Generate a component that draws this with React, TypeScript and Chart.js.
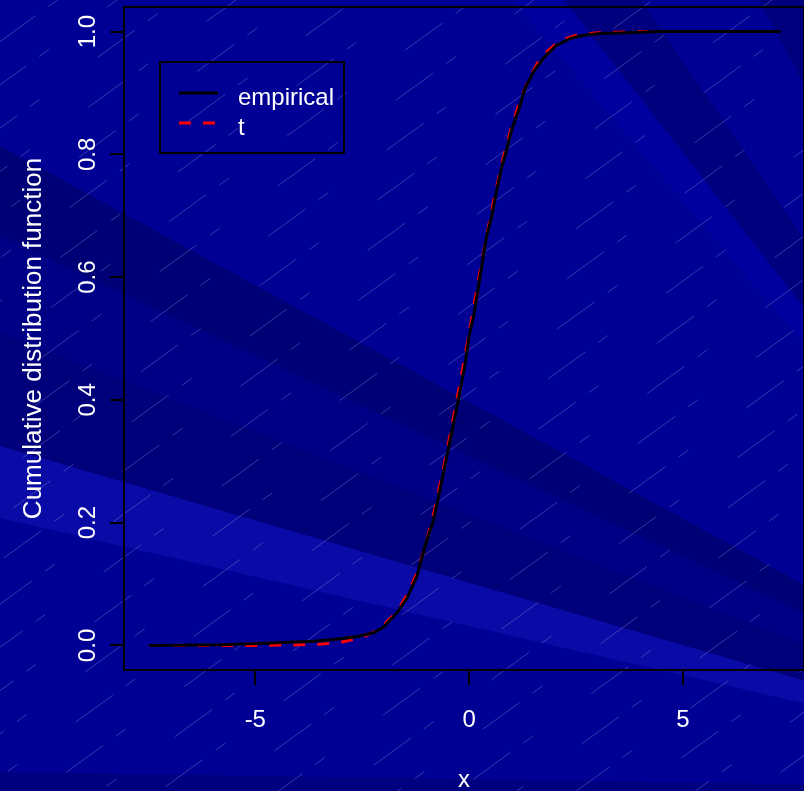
import React, { useEffect, useRef } from 'react';
import { Chart, registerables } from 'chart.js';

Chart.register(...registerables);

// ---- data ----
const EMPIRICAL_X = [-7.48, -5.8, -4.65, -3.65, -3.12, -2.65, -2.22, -2.0, -1.69, -1.46, -1.22, -1.03, -0.83, -0.68, -0.52, -0.41, -0.25, -0.09, 0.0, 0.12, 0.22, 0.32, 0.41, 0.53, 0.65, 0.75, 0.86, 1.0, 1.16, 1.31, 1.51, 1.74, 2.03, 2.37, 2.68, 3.07, 3.69, 4.4, 7.28];
const EMPIRICAL_Y = [0.0, 0.001, 0.004, 0.007, 0.01, 0.014, 0.021, 0.03, 0.053, 0.076, 0.113, 0.162, 0.205, 0.254, 0.308, 0.346, 0.401, 0.46, 0.504, 0.542, 0.585, 0.629, 0.667, 0.699, 0.743, 0.776, 0.803, 0.841, 0.873, 0.908, 0.935, 0.957, 0.977, 0.989, 0.994, 0.997, 0.998, 1.0, 1.0];
const T_X = [-7.48, -6.0, -5.0, -4.0, -3.5, -3.0, -2.5, -2.2, -2.0, -1.8, -1.6, -1.4, -1.2, -1.0, -0.8, -0.6, -0.4, -0.2, 0.0, 0.2, 0.4, 0.6, 0.8, 1.0, 1.2, 1.4, 1.6, 1.8, 2.0, 2.2, 2.5, 3.0, 3.5, 4.0, 5.0, 7.28];
const T_Y = [0.0, 0.0, 0.0, 0.001, 0.002, 0.005, 0.013, 0.023, 0.033, 0.047, 0.065, 0.089, 0.122, 0.169, 0.223, 0.289, 0.359, 0.432, 0.509, 0.588, 0.664, 0.733, 0.795, 0.847, 0.889, 0.923, 0.949, 0.966, 0.978, 0.987, 0.994, 0.998, 0.999, 1.0, 1.0, 1.0];
const SERIES_NAMES = ['empirical', 't'];
const X_TICKS = [-5, 0, 5];
const Y_TICKS = [0, 0.2, 0.4, 0.6, 0.8, 1.0];
const X_LABEL = 'x';
const Y_LABEL = 'Cumulative distribution function';
const X_RANGE = [-8.07, 7.83];
const Y_RANGE = [-0.04, 1.04];

// ---- styling ----
const FONT = '"Liberation Sans", Arial, Helvetica, sans-serif';
const W = 804;
const H = 791;
const BG_BASE = '#000094';
const RAY_APEX = [1180, 790];
const RAYS = [
  { from: [0, 146], to: [0, 236], color: '#000076' },
  { from: [0, 236], to: [0, 333], color: '#000087' },
  { from: [0, 333], to: [0, 446], color: '#00007b' },
  { from: [0, 446], to: [0, 518], color: '#0a0aa6' },
  { from: [0, 772], to: [0, 900], color: '#000080' },
  { from: [513, 0], to: [564, 0], color: '#00009e' },
  { from: [564, 0], to: [641, 0], color: '#00007e' },
  { from: [759, 0], to: [840, 0], color: '#00007e' },
];

const backgroundPlugin = {
  id: 'rBackground',
  beforeDraw(chart: any) {
    const { ctx, width, height } = chart;
    ctx.save();
    ctx.fillStyle = BG_BASE;
    ctx.fillRect(0, 0, width, height);
    const [ax, ay] = RAY_APEX;
    const ext = (p: number[]) => [ax + (p[0] - ax) * 3, ay + (p[1] - ay) * 3];
    for (const r of RAYS) {
      const p1 = ext(r.from);
      const p2 = ext(r.to);
      ctx.beginPath();
      ctx.moveTo(ax, ay);
      ctx.lineTo(p1[0], p1[1]);
      ctx.lineTo(p2[0], p2[1]);
      ctx.closePath();
      ctx.fillStyle = r.color;
      ctx.fill();
    }
    // diagonal hatch texture
    const ang = (36 * Math.PI) / 180;
    const dx = Math.cos(ang);
    const dy = -Math.sin(ang);
    const nx = -dy;
    const ny = dx;
    ctx.strokeStyle = 'rgba(140,140,210,0.5)';
    ctx.lineWidth = 0.8;
    ctx.setLineDash([46, 16, 12, 72]);
    for (let k = -40; k <= 40; k++) {
      const ox = 400 + nx * k * 35;
      const oy = 400 + ny * k * 35;
      ctx.lineDashOffset = ((k * 37) % 146 + 146) % 146;
      ctx.beginPath();
      ctx.moveTo(ox - dx * 1400, oy - dy * 1400);
      ctx.lineTo(ox + dx * 1400, oy + dy * 1400);
      ctx.stroke();
    }
    ctx.restore();
  },
};

const framePlugin = {
  id: 'rFrame',
  afterDatasetsDraw(chart: any) {
    const { ctx, chartArea: a } = chart;
    ctx.save();
    ctx.strokeStyle = '#000';
    ctx.lineWidth = 2;
    ctx.setLineDash([]);
    ctx.strokeRect(a.left, a.top, a.right - a.left, a.bottom - a.top);
    // legend
    const bx = a.left + 36;
    const by = a.top + 55;
    ctx.strokeRect(bx, by, 184, 91);
    chart.data.datasets.forEach((ds: any, i: number) => {
      const y = by + 31 + i * 30;
      ctx.beginPath();
      ctx.setLineDash(ds.borderDash || []);
      ctx.lineDashOffset = 0;
      ctx.strokeStyle = ds.borderColor;
      ctx.lineWidth = ds.borderWidth;
      ctx.moveTo(bx + 19, y);
      ctx.lineTo(bx + 58, y);
      ctx.stroke();
      ctx.setLineDash([]);
      ctx.fillStyle = '#ffffff';
      ctx.font = `24px ${FONT}`;
      ctx.textAlign = 'left';
      ctx.textBaseline = 'alphabetic';
      ctx.fillText(ds.label, bx + 78, y + 12);
    });
    ctx.restore();
  },
};

export default function App() {
  const ref = useRef<HTMLCanvasElement | null>(null);

  useEffect(() => {
    if (!ref.current) return;
    const empirical = EMPIRICAL_X.map((x, i) => ({ x, y: EMPIRICAL_Y[i] }));
    const tdist = T_X.map((x, i) => ({ x, y: T_Y[i] }));
    const chart = new Chart(ref.current, {
      type: 'line',
      data: {
        datasets: [
          {
            label: SERIES_NAMES[0],
            data: empirical,
            borderColor: '#000000',
            borderWidth: 3,
            pointRadius: 0,
            tension: 0,
            fill: false,
          },
          {
            label: SERIES_NAMES[1],
            data: tdist,
            borderColor: '#ff0000',
            borderWidth: 3,
            borderDash: [12, 12],
            pointRadius: 0,
            tension: 0,
            fill: false,
          },
        ],
      },
      options: {
        responsive: false,
        maintainAspectRatio: false,
        devicePixelRatio: 1,
        animation: false,
        events: [],
        layout: { padding: { top: 7, left: 0, right: 0, bottom: 0 }, autoPadding: false },
        plugins: { legend: { display: false }, tooltip: { enabled: false } },
        scales: {
          x: {
            type: 'linear',
            position: 'bottom',
            min: X_RANGE[0],
            max: X_RANGE[1],
            afterBuildTicks: (s: any) => {
              s.ticks = X_TICKS.map((v) => ({ value: v }));
            },
            afterFit: (s: any) => {
              s.height = 121;
              s.paddingLeft = 0;
              s.paddingRight = 0;
            },
            border: { display: true, color: '#000', width: 2 },
            grid: { display: true, drawOnChartArea: false, drawTicks: true, tickLength: 15, color: '#000', lineWidth: 2 },
            ticks: {
              color: '#ffffff',
              font: { family: FONT, size: 24 },
              padding: 21,
              maxRotation: 0,
              minRotation: 0,
              autoSkip: false,
              callback: (v: any) => String(v),
            },
            title: {
              display: true,
              text: X_LABEL,
              color: '#ffffff',
              font: { family: FONT, size: 24, lineHeight: 0.9 },
              padding: { top: 0, bottom: 0 },
            },
          },
          y: {
            type: 'linear',
            position: 'left',
            min: Y_RANGE[0],
            max: Y_RANGE[1],
            afterBuildTicks: (s: any) => {
              s.ticks = Y_TICKS.map((v) => ({ value: v }));
            },
            afterFit: (s: any) => {
              s.width = 124;
              s.paddingTop = 0;
              s.paddingBottom = 0;
            },
            border: { display: true, color: '#000', width: 2 },
            grid: { display: true, drawOnChartArea: false, drawTicks: true, tickLength: 14, color: '#000', lineWidth: 2 },
            ticks: {
              color: '#ffffff',
              font: { family: FONT, size: 24 },
              padding: 5,
              minRotation: 90,
              maxRotation: 90,
              crossAlign: 'center',
              autoSkip: false,
              callback: (v: any) => Number(v).toFixed(1),
            },
            title: {
              display: true,
              text: Y_LABEL,
              color: '#ffffff',
              font: { family: FONT, size: 26 },
              padding: { top: 18, bottom: 0 },
            },
          },
        },
      },
      plugins: [backgroundPlugin, framePlugin],
    } as any);
    return () => chart.destroy();
  }, []);

  return (
    <div style={{ position: 'absolute', left: 0, top: 0, width: W, height: H }}>
      <canvas ref={ref} width={W} height={H} style={{ display: 'block', width: W, height: H }} />
    </div>
  );
}
